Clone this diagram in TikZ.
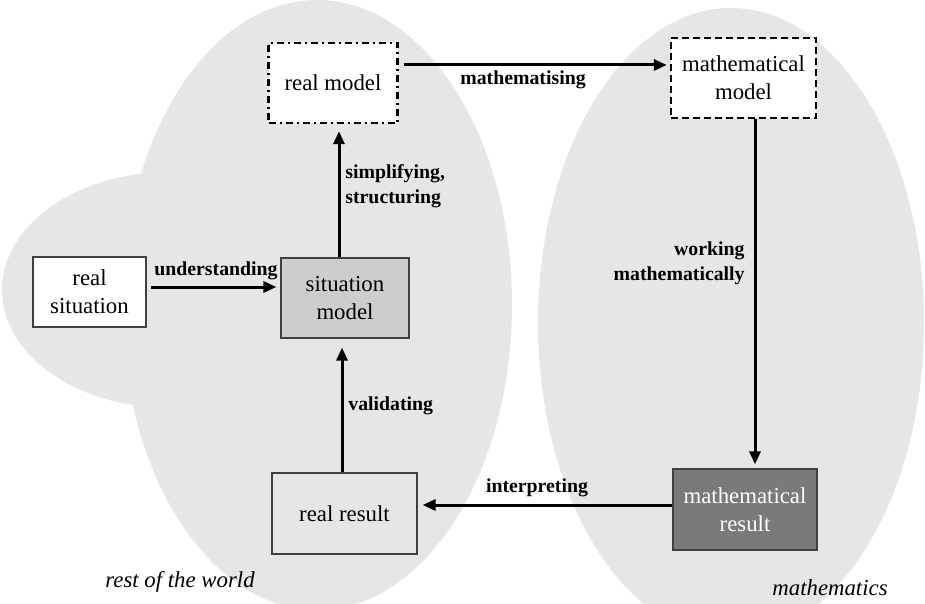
\documentclass[tikz,border=0pt]{standalone}
\usepackage{fontspec}
\setmainfont{Liberation Serif}
\usepackage{tikz}
\usetikzlibrary{arrows.meta}

\definecolor{areagray}{HTML}{E6E6E6}
\definecolor{sitgray}{HTML}{CDCDCD}
\definecolor{resgray}{HTML}{7A7A7A}

\tikzset{
  box/.style={draw=black!75, line width=0.6pt, inner sep=0pt, align=center,
    font=\fontsize{11.4}{14}\selectfont},
  flow/.style={line width=1.5pt, -{Triangle[length=6.5pt,width=5.5pt]}},
  lab/.style={inner sep=0pt, align=left, font=\fontsize{9.9}{12.5}\selectfont\bfseries},
  area/.style={inner sep=0pt, font=\fontsize{11.4}{14}\selectfont\itshape}
}

\begin{document}
\begin{tikzpicture}[x=0.5pt,y=-0.5pt]
\useasboundingbox (0,0) rectangle (925,604);
\clip (0,0) rectangle (925,604);
% the two worlds
\fill [areagray] (317,305) ellipse [x radius=195, y radius=305];
\fill [areagray] (170,290) ellipse [x radius=168, y radius=118];
\fill [areagray] (731,323) ellipse [x radius=193, y radius=315];
% boxes
\node [box, fill=white, line width=1.2pt, draw=black, dash pattern=on 3.5pt off 2pt on 1pt off 2pt,
  minimum width=64.5pt, minimum height=40pt] (rmod) at (333,83) {real model};
\node [box, fill=white, line width=1.2pt, draw=black, dash pattern=on 3.5pt off 2pt,
  minimum width=72.5pt, minimum height=40pt] (mmod) at (743.5,78) {mathematical\\model};
\node [box, fill=white, minimum width=56.5pt, minimum height=35pt] (rsit) at (89.5,292) {real\\situation};
\node [box, fill=sitgray, minimum width=64pt, minimum height=40pt] (smod) at (345,298) {situation\\model};
\node [box, fill=areagray, minimum width=72.5pt, minimum height=40.5pt] (rres) at (344.5,513.5) {real result};
\node [box, fill=resgray, text=white, minimum width=72pt, minimum height=40.5pt] (mres) at (745,509.5) {mathematical\\result};
% where the arrows run
\coordinate (uy) at (0,287);
\coordinate (sx) at (339,0);
\coordinate (my) at (0,65);
\coordinate (wx) at (755,0);
\coordinate (iy) at (0,505);
\coordinate (vx) at (342,0);
% arrows
\draw [flow, shorten <=2pt, shorten >=2pt] (rsit.east |- uy) -- (smod.west |- uy);
\draw [flow, shorten >=3.5pt] (smod.north -| sx) -- (rmod.south -| sx);
\draw [flow, shorten <=2.5pt, shorten >=1.5pt] (rmod.east |- my) -- (mmod.west |- my);
\draw [flow, shorten >=2pt] (mmod.south -| wx) -- (mres.north -| wx);
\draw [flow, shorten >=2.5pt] (mres.west |- iy) -- (rres.east |- iy);
\draw [flow, shorten >=4.5pt] (rres.north -| vx) -- (smod.south -| vx);
% labels
\node [lab, anchor=base] (lund) at (216,275) {understanding};
\node [lab, anchor=west] (lsim) at (345,186) {simplifying,\\structuring};
\node [lab, anchor=base] (lmat) at (523,85) {mathematising};
\node [lab, anchor=east, align=right] (lwor) at (745,263) {working\\mathematically};
\node [lab, anchor=base] (lint) at (537,492) {interpreting};
\node [lab, anchor=base west] (lval) at (348,410) {validating};
\node [area, anchor=base west] (lrest) at (105,587) {rest of the world};
\node [area, anchor=base west] (lmath) at (772,595) {mathematics};
\end{tikzpicture}
\end{document}
